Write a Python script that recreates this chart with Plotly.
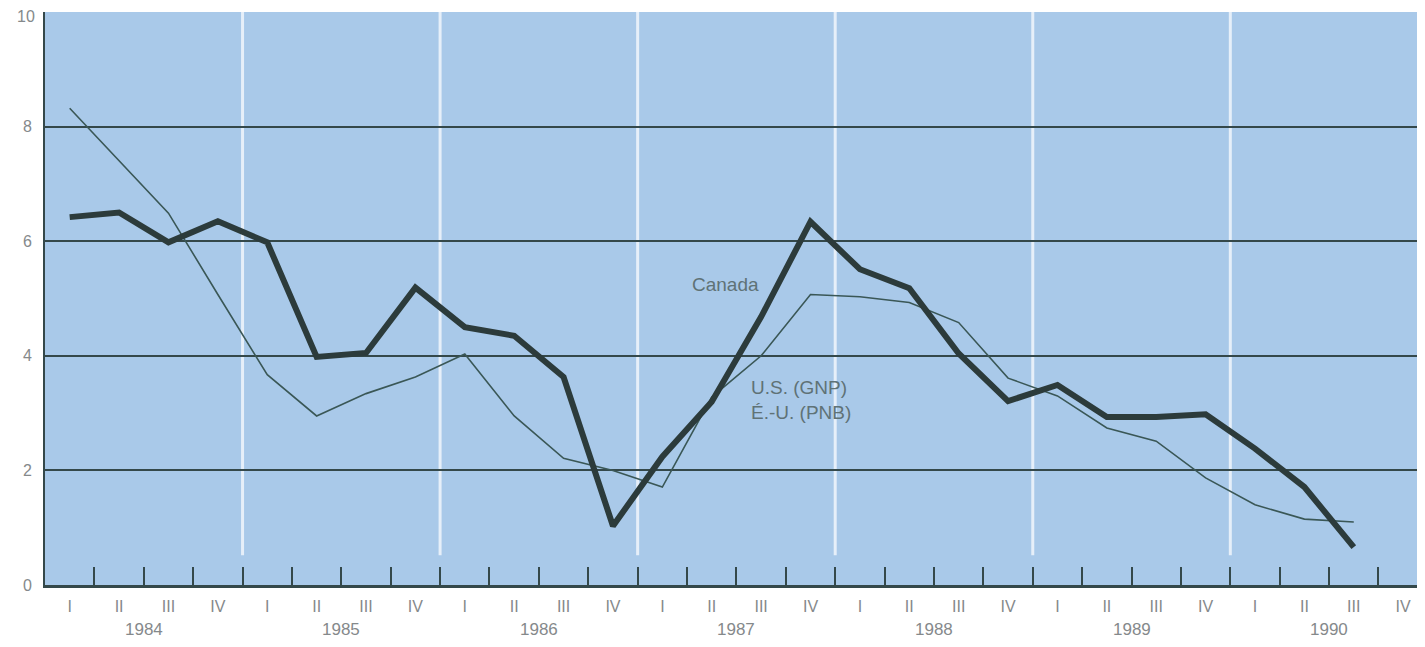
import plotly.graph_objects as go

# quarters 1984 I .. 1990 IV
years = ["1984", "1985", "1986", "1987", "1988", "1989", "1990"]
quarters = ["I", "II", "III", "IV"]
y_ticks = [0, 2, 4, 6, 8, 10]

canada = [6.42, 6.50, 5.98, 6.35, 5.98, 3.98, 4.05, 5.19, 4.50, 4.35, 3.63, 1.03,
          2.24, 3.20, 4.68, 6.34, 5.51, 5.18, 4.04, 3.21, 3.49, 2.93, 2.93, 2.98,
          2.38, 1.71, 0.66]
us_gnp = [8.32, 7.40, 6.49, 5.07, 3.67, 2.95, 3.34, 3.63, 4.03, 2.95, 2.21, 2.00,
          1.71, 3.28, 4.00, 5.07, 5.03, 4.93, 4.58, 3.61, 3.30, 2.74, 2.51, 1.87,
          1.40, 1.15, 1.10]

n_q = len(years) * len(quarters)
xq = [i + 0.5 for i in range(n_q)]
q_text = quarters * len(years)

dark = "#34484a"
label_grey = "#85898b"
note_grey = "#5f7276"

fig = go.Figure()

# white year separators
for k in range(1, len(years)):
    fig.add_shape(type="line", x0=4 * k, x1=4 * k, y0=0.52, y1=10,
                  line=dict(color="#e6eff9", width=3), layer="below")

fig.add_trace(go.Scatter(x=xq[:len(us_gnp)], y=us_gnp, mode="lines",
                         line=dict(color="#3a5756", width=1.6),
                         showlegend=False, hoverinfo="skip"))
fig.add_trace(go.Scatter(x=xq[:len(canada)], y=canada, mode="lines",
                         line=dict(color="#2c3b3b", width=6),
                         showlegend=False, hoverinfo="skip"))

fig.add_annotation(x=13.77, y=5.25, text="Canada", showarrow=False,
                   font=dict(size=19, color=note_grey))
fig.add_annotation(x=14.25, y=3.22, text="U.S. (GNP)<br>É.-U. (PNB)",
                   showarrow=False, xanchor="left", align="left",
                   font=dict(size=19, color=note_grey))

for k, yr in enumerate(years):
    fig.add_annotation(x=4 * k + 2, y=0, yref="paper", yshift=-56,
                       text=yr, showarrow=False,
                       font=dict(size=17, color=label_grey))

# top tick label drawn a touch lower so it is not clipped by the page edge
fig.add_annotation(x=0, xref="paper", y=y_ticks[-1], xanchor="right",
                   yanchor="top", xshift=-8, yshift=6, text=str(y_ticks[-1]),
                   showarrow=False, font=dict(size=16, color=label_grey))

# page body has an 8px margin, so the figure is shrunk to fit the window
fig.update_layout(
    width=1409, height=631,
    margin=dict(l=37, r=0, t=4, b=54, autoexpand=False),
    paper_bgcolor="white",
    plot_bgcolor="#a9c9e9",
    font=dict(family="Liberation Sans, Arial, sans-serif", color=label_grey),
    xaxis=dict(
        range=[0, 27.78], showgrid=False, zeroline=False, automargin=False,
        tickvals=xq, ticktext=q_text, ticks="", ticklabelstandoff=5,
        tickfont=dict(size=16, color=label_grey),
        showline=True, linecolor=dark, linewidth=3,
        minor=dict(tickvals=list(range(1, n_q)), ticks="inside",
                   ticklen=18, tickwidth=2, tickcolor=dark, showgrid=False),
    ),
    yaxis=dict(
        range=[0, 10], tickvals=y_ticks,
        ticktext=[str(v) for v in y_ticks[:-1]] + [""], automargin=False,
        showgrid=True, gridcolor=dark, gridwidth=1.5, zeroline=False,
        showline=True, linecolor=dark, linewidth=2,
        ticks="", ticklabelstandoff=8,
        tickfont=dict(size=16, color=label_grey),
    ),
)

fig.write_html("out.html")
